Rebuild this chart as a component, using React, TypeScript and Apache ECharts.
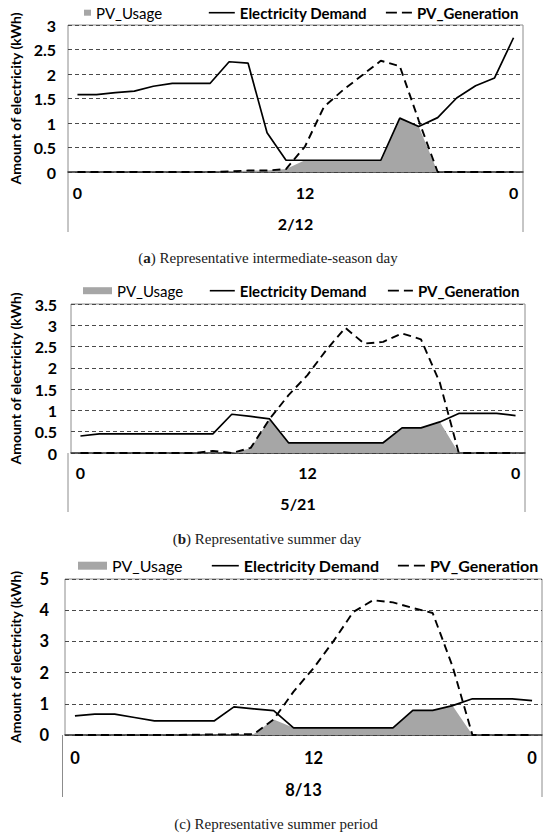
import { useEffect, useRef } from 'react';
import * as echarts from 'echarts';

// ---------- data ----------
const hours = ['0', '1', '2', '3', '4', '5', '6', '7', '8', '9', '10', '11', '12', '13', '14', '15', '16', '17', '18', '19', '20', '21', '22', '23'];
const hourTickLabels = ['0', '', '', '', '', '', '', '', '', '', '', '', '12', '', '', '', '', '', '', '', '', '', '', '0'];
const seriesNames = ['PV_Usage', 'Electricity Demand', 'PV_Generation'];
const yAxisTitle = 'Amount of electricity (kWh)';
const dateLabels = ['2/12', '5/21', '8/13'];
const captionLetters = ['a', 'b', 'c'];
const captionBold = [true, true, false];
const captionTexts = ['Representative intermediate-season day', 'Representative summer day', 'Representative summer period'];
const yMax = [3, 3.5, 5];
const yStep = [0.5, 0.5, 1];

// (a) 2/12
const usageA = [0, 0, 0, 0, 0, 0, 0, 0, 0.01, 0.03, 0.03, 0.06, 0.24, 0.24, 0.24, 0.24, 0.24, 1.10, 0.93, 0, 0, 0, 0, 0];
const demandA = [1.58, 1.58, 1.62, 1.65, 1.75, 1.81, 1.81, 1.81, 2.25, 2.22, 0.80, 0.24, 0.24, 0.24, 0.24, 0.24, 0.24, 1.10, 0.93, 1.11, 1.51, 1.76, 1.92, 2.74];
const generationA = [0, 0, 0, 0, 0, 0, 0, 0, 0.01, 0.03, 0.03, 0.06, 0.52, 1.33, 1.67, 1.97, 2.27, 2.16, 1.05, 0, 0, 0, 0, 0];

// (b) 5/21
const usageB = [0, 0, 0, 0, 0, 0, 0, 0, 0, 0.11, 0.80, 0.24, 0.24, 0.24, 0.24, 0.24, 0.24, 0.59, 0.59, 0.73, 0, 0, 0, 0];
const demandB = [0.40, 0.45, 0.45, 0.45, 0.45, 0.45, 0.45, 0.45, 0.91, 0.86, 0.80, 0.24, 0.24, 0.24, 0.24, 0.24, 0.24, 0.59, 0.59, 0.73, 0.93, 0.93, 0.93, 0.88];
const generationB = [0, 0, 0, 0, 0, 0, 0, 0.05, 0, 0.12, 0.80, 1.36, 1.83, 2.42, 2.94, 2.57, 2.61, 2.81, 2.67, 1.65, 0, 0, 0, 0];

// (c) 8/13
const usageC = [0, 0, 0, 0, 0, 0, 0, 0, 0, 0.03, 0.50, 0.23, 0.23, 0.23, 0.23, 0.23, 0.23, 0.79, 0.79, 0.94, 0, 0, 0, 0];
const demandC = [0.61, 0.67, 0.67, 0.56, 0.45, 0.45, 0.45, 0.45, 0.90, 0.84, 0.78, 0.23, 0.23, 0.23, 0.23, 0.23, 0.23, 0.79, 0.79, 0.94, 1.16, 1.16, 1.16, 1.10];
const generationC = [0, 0, 0, 0, 0, 0, 0.01, 0.02, 0.02, 0.03, 0.50, 1.39, 2.14, 3.00, 3.94, 4.32, 4.25, 4.07, 3.91, 2.20, 0, 0, 0, 0];

const usageData = [usageA, usageB, usageC];
const demandData = [demandA, demandB, demandC];
const generationData = [generationA, generationB, generationC];

// ---------- layout ----------
const panels = [
  {
    left: 68, top: 25, width: 455, height: 147, frameBottom: 232,
    fs: 16, lfs: 15, yLabelMargin: 12, yNameGap: 44, xLabelMargin: 12, xNameGap: 43,
    captionX: 268, captionY: 258, legendY: 12.7,
    legendItems: [
      { left: 84, w: 7, h: 6 },
      { left: 208, w: 26, h: 10 },
      { left: 385, w: 26, h: 10 },
    ],
  },
  {
    left: 68, top: 304, width: 457, height: 149, frameBottom: 512,
    fs: 16, lfs: 15, yLabelMargin: 14, yNameGap: 49, xLabelMargin: 11, xNameGap: 42,
    captionX: 267, captionY: 539, legendY: 290.7,
    legendItems: [
      { left: 83, w: 29, h: 7 },
      { left: 209, w: 25, h: 10 },
      { left: 387, w: 25, h: 10 },
    ],
  },
  {
    left: 62.5, top: 579, width: 479.5, height: 156, frameBottom: 797,
    fs: 16.5, lfs: 16, yLabelMargin: 16, yNameGap: 43, xLabelMargin: 14, xNameGap: 46,
    captionX: 276, captionY: 824, legendY: 565.7,
    legendItems: [
      { left: 78, w: 29, h: 8 },
      { left: 211, w: 27, h: 10 },
      { left: 397, w: 27, h: 10 },
    ],
  },
];

const FONT = 'Lato';
const SERIF = '"Liberation Serif", "DejaVu Serif", serif';
const AREA_COLOR = '#a6a6a6';
const FRAME_COLOR = '#8c8c8c';

function buildOption() {
  const grid = panels.map((p) => ({
    left: p.left, top: p.top, width: p.width, height: p.height,
    show: true, borderColor: FRAME_COLOR, borderWidth: 1, backgroundColor: 'transparent',
  }));

  const xAxis = panels.map((p, i) => ({
    type: 'category', gridIndex: i, data: hours, boundaryGap: true,
    axisTick: { show: false },
    axisLine: { show: true, onZero: true, lineStyle: { color: '#3a3a3a', width: 1.5 } },
    axisLabel: {
      interval: 0,
      formatter: (_v: string, idx: number) => hourTickLabels[idx],
      fontFamily: FONT, fontWeight: 'bold', fontSize: p.fs, color: '#000', margin: p.xLabelMargin,
    },
    splitLine: { show: false },
    name: dateLabels[i], nameLocation: 'middle', nameGap: p.xNameGap,
    nameTextStyle: { fontFamily: FONT, fontWeight: 'bold', fontSize: p.fs, color: '#000' },
  }));

  const yAxis = panels.map((p, i) => ({
    type: 'value', gridIndex: i, min: 0, max: yMax[i], interval: yStep[i],
    axisLine: { show: false }, axisTick: { show: false },
    axisLabel: { fontFamily: FONT, fontWeight: 'bold', fontSize: p.fs, color: '#000', margin: p.yLabelMargin },
    splitLine: { show: true, lineStyle: { color: '#4a4a4a', type: [4, 3], width: 1 } },
    name: yAxisTitle, nameLocation: 'middle', nameGap: p.yNameGap,
    nameTextStyle: { fontFamily: FONT, fontWeight: 'bold', fontSize: 14, color: '#000' },
  }));

  const legend: any[] = [];
  panels.forEach((p) => {
    p.legendItems.forEach((it, k) => {
      const item: any = {
        name: seriesNames[k],
        textStyle: { fontWeight: k === 0 ? 'normal' : 'bold' },
      };
      if (k === 0) {
        item.icon = 'rect';
      } else {
        item.itemStyle = { opacity: 0 };
      }
      if (k === 1) item.lineStyle = { width: 1.6 };
      if (k === 2) item.lineStyle = { type: [11, 5], width: 1.8 };
      legend.push({
        left: it.left, top: p.legendY - 8, padding: 0,
        itemWidth: it.w, itemHeight: it.h, selectedMode: false,
        textStyle: { fontFamily: FONT, fontSize: p.lfs, color: '#000', lineHeight: 16 },
        data: [item],
      });
    });
  });

  const series: any[] = [];
  panels.forEach((_p, i) => {
    series.push({
      name: seriesNames[0], type: 'line', xAxisIndex: i, yAxisIndex: i,
      data: usageData[i], symbol: 'none', z: 1,
      itemStyle: { color: AREA_COLOR },
      lineStyle: { width: 0, opacity: 0 },
      areaStyle: { color: AREA_COLOR, opacity: 1 },
    });
    series.push({
      name: seriesNames[1], type: 'line', xAxisIndex: i, yAxisIndex: i,
      data: demandData[i], symbol: 'none', z: 3,
      itemStyle: { color: '#000' },
      lineStyle: { color: '#000', width: 1.7 },
    });
    series.push({
      name: seriesNames[2], type: 'line', xAxisIndex: i, yAxisIndex: i,
      data: generationData[i], symbol: 'none', z: 4,
      itemStyle: { color: '#000' },
      lineStyle: { color: '#000', width: 1.9, type: [8, 5] },
    });
  });

  const graphic: any[] = [];
  panels.forEach((p, i) => {
    const zeroY = p.top + p.height;
    [p.left, p.left + p.width].forEach((x) => {
      graphic.push({
        type: 'line', silent: true,
        shape: { x1: x, y1: zeroY, x2: x, y2: p.frameBottom },
        style: { stroke: FRAME_COLOR, lineWidth: 1 },
      });
    });
    const letter = captionBold[i] ? `{b|${captionLetters[i]}}` : captionLetters[i];
    graphic.push({
      type: 'text', silent: true, x: p.captionX, y: p.captionY,
      style: {
        text: `(${letter}) ${captionTexts[i]}`,
        fontFamily: SERIF, fontSize: 15, fill: '#1a1a1a',
        align: 'center', verticalAlign: 'middle',
        rich: { b: { fontFamily: SERIF, fontSize: 15, fontWeight: 'bold', fill: '#1a1a1a' } },
      },
    });
  });

  return {
    animation: false,
    backgroundColor: '#fff',
    textStyle: { fontFamily: FONT },
    grid, xAxis, yAxis, legend, series, graphic,
  };
}

export default function App() {
  const ref = useRef<HTMLDivElement>(null);
  useEffect(() => {
    document.body.style.margin = '0';
    if (!ref.current) return;
    const chart = echarts.init(ref.current, undefined, { renderer: 'svg' });
    chart.setOption(buildOption() as any);
    return () => chart.dispose();
  }, []);
  return <div ref={ref} style={{ width: 550, height: 839 }} />;
}
